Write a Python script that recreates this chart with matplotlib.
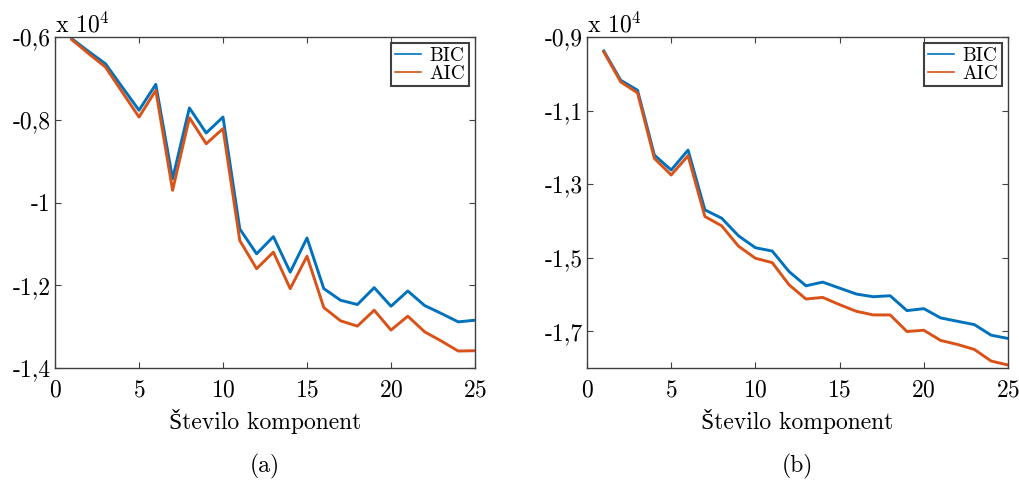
import matplotlib
matplotlib.use("Agg")
import matplotlib.pyplot as plt

plt.rcParams['font.family'] = ['cmr10', 'Liberation Serif', 'DejaVu Serif']
plt.rcParams['mathtext.fontset'] = 'cm'
plt.rcParams['axes.unicode_minus'] = False
plt.rcParams['axes.formatter.use_mathtext'] = True

komponente = list(range(1, 26))

# panel (a)
bic_a = [-6040, -6350, -6645, -7210, -7770, -7145, -9425, -7715, -8320, -7935,
         -10640, -11240, -10825, -11683, -10857, -12082, -12363, -12466, -12058, -12507,
         -12139, -12490, -12683, -12885, -12845]
aic_a = [-6065, -6400, -6725, -7330, -7935, -7290, -9705, -7950, -8580, -8215,
         -10920, -11600, -11200, -12082, -11298, -12539, -12860, -12988, -12603, -13084,
         -12748, -13125, -13349, -13590, -13582]

# panel (b)
bic_b = [-9380, -10175, -10447, -12210, -12617, -12075, -13700, -13928, -14407, -14730,
         -14820, -15378, -15765, -15665, -15828, -15990, -16062, -16035, -16440, -16386,
         -16638, -16730, -16820, -17108, -17197]
aic_b = [-9407, -10220, -10519, -12300, -12752, -12228, -13880, -14135, -14690, -15016,
         -15135, -15738, -16124, -16081, -16278, -16459, -16557, -16557, -17008, -16973,
         -17251, -17360, -17495, -17811, -17919]

x_ticks = [0, 5, 10, 15, 20, 25]
y_ticks_a = [-0.6, -0.8, -1.0, -1.2, -1.4]
y_labels_a = ['-0,6', '-0,8', '-1', '-1,2', '-1,4']
y_ticks_b = [-0.9, -1.1, -1.3, -1.5, -1.7]
y_labels_b = ['-0,9', '-1,1', '-1,3', '-1,5', '-1,7']

BLUE = '#0072BD'
RED = '#D95319'
EDGE = '#404040'
FS = 17

fig = plt.figure(figsize=(10.19, 4.8), dpi=100)
ax_a = fig.add_axes([55 / 1019, 112 / 480, 420 / 1019, 331 / 480])
ax_b = fig.add_axes([587 / 1019, 112 / 480, 421 / 1019, 331 / 480])


def draw(ax, bic, aic, yticks, ylabels, ylim, caption):
    ax.plot(komponente, [v / 1e4 for v in bic], color=BLUE, lw=2.1, label='BIC')
    ax.plot(komponente, [v / 1e4 for v in aic], color=RED, lw=2.1, label='AIC')
    ax.set_xlim(0, 25)
    ax.set_ylim(*ylim)
    ax.set_xticks(x_ticks)
    ax.set_yticks(yticks)
    ax.set_yticklabels(ylabels)
    ax.tick_params(direction='in', top=True, right=True, length=4.5, width=0.8,
                   color=EDGE, labelsize=FS)
    ax.tick_params(axis='x', pad=8)
    ax.tick_params(axis='y', pad=3)
    for sp in ax.spines.values():
        sp.set_color(EDGE)
        sp.set_linewidth(1.0)
    ax.set_xlabel('Število komponent', fontsize=FS, va='center')
    ax.xaxis.set_label_coords(0.5, -(422 - 368) / 331)
    ax.text(0.0, 1.015, r'x 10$^{4}$', transform=ax.transAxes, fontsize=FS,
            ha='left', va='baseline')
    ax.text(0.5, -(466 - 368) / 331, caption, transform=ax.transAxes, fontsize=FS,
            ha='center', va='center')
    leg = ax.legend(loc='upper right', fontsize=14, handlelength=1.35,
                    borderpad=0.2, labelspacing=0.0, handletextpad=0.45,
                    borderaxespad=0.3, fancybox=False, framealpha=1)
    leg.get_frame().set_edgecolor(EDGE)
    leg.get_frame().set_linewidth(1.5)
    for line in leg.get_lines():
        line.set_linewidth(1.2)


draw(ax_a, bic_a, aic_a, y_ticks_a, y_labels_a, (-1.4, -0.6), '(a)')
draw(ax_b, bic_b, aic_b, y_ticks_b, y_labels_b, (-1.8, -0.9), '(b)')

fig.savefig('out.png', dpi=100)
